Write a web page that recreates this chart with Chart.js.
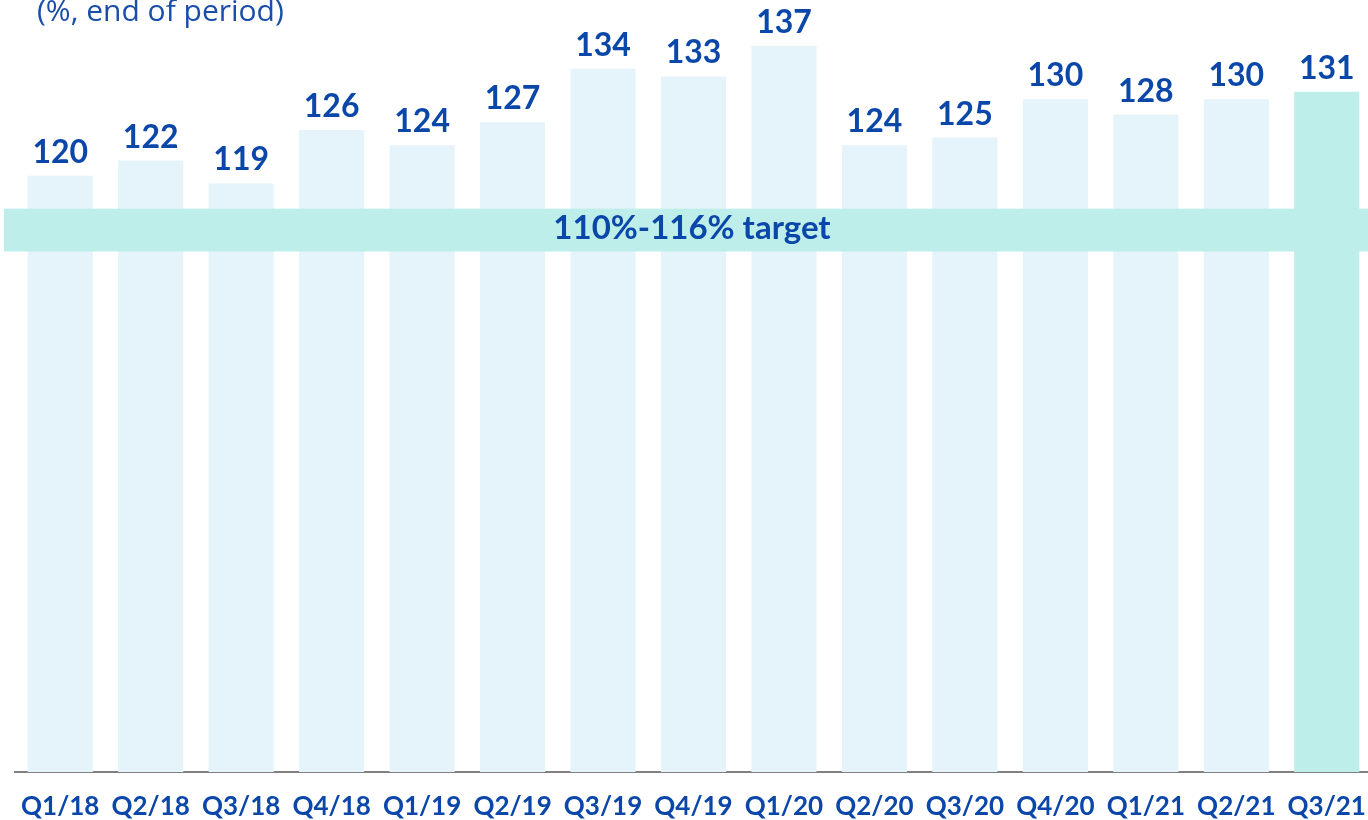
<!DOCTYPE html>
<html>
<head>
<meta charset="utf-8">
<script src="https://cdn.jsdelivr.net/npm/chart.js@4"></script>
<style>
  html, body { margin: 0; padding: 0; background: #fff; overflow: hidden; }
  #wrap { position: relative; width: 1368px; height: 820px; overflow: hidden; }
  #chart { position: absolute; left: 0; top: 0; }
</style>
</head>
<body>
<div id="wrap">
  <canvas id="chart" width="1385" height="820"></canvas>
</div>
<script>
const quarters = ['Q1/18', 'Q2/18', 'Q3/18', 'Q4/18', 'Q1/19', 'Q2/19', 'Q3/19', 'Q4/19',
                  'Q1/20', 'Q2/20', 'Q3/20', 'Q4/20', 'Q1/21', 'Q2/21', 'Q3/21'];
const ratio = [120, 122, 119, 126, 124, 127, 134, 133, 137, 124, 125, 130, 128, 130, 131];
const targetBand = [110.1, 115.7];
const targetLabel = '110%-116% target';
const unitNote = '(%, end of period)';

const blue = '#0B47A9';
const lightBar = '#E4F4FA';
const tealBar = '#BDEEEA';

const barColors = ratio.map((v, i) => i === ratio.length - 1 ? tealBar : lightBar);

// band + labels drawn on top of the bars
const overlay = {
    id: 'overlay',
    afterDatasetsDraw(chart) {
        const ctx = chart.ctx;
        const y = chart.scales.y;
        const top = y.getPixelForValue(targetBand[1]);
        const bottom = y.getPixelForValue(targetBand[0]);
        ctx.save();
        ctx.fillStyle = tealBar;
        ctx.fillRect(4, top, chart.width, bottom - top);

        ctx.fillStyle = blue;
        ctx.textAlign = 'center';
        ctx.textBaseline = 'alphabetic';
        ctx.font = 'bold 33px Lato, sans-serif';
        ctx.fillText(targetLabel, 692, 239);

        ctx.font = 'bold 32px Lato, sans-serif';
        chart.getDatasetMeta(0).data.forEach((bar, i) => {
            ctx.fillText(ratio[i], bar.x, bar.y - 13);
        });

        ctx.textAlign = 'left';
        ctx.fillStyle = '#1A4EA8';
        ctx.font = '30px "Open Sans", sans-serif';
        ctx.fillText(unitNote, 37, 21);
        ctx.restore();
    }
};

new Chart(document.getElementById('chart'), {
    type: 'bar',
    data: {
        labels: quarters,
        datasets: [{
            data: ratio,
            backgroundColor: barColors,
            barPercentage: 0.72,
            categoryPercentage: 1
        }]
    },
    options: {
        responsive: false,
        animation: false,
        layout: { padding: { left: 15, right: 13, top: 0, bottom: 0 } },
        plugins: {
            legend: { display: false },
            tooltip: { enabled: false }
        },
        scales: {
            x: {
                grid: { display: false },
                border: { display: true, color: '#808080', width: 2 },
                ticks: {
                    color: blue,
                    font: { family: 'Lato', size: 26, weight: 'bold' },
                    padding: 11,
                    maxRotation: 0,
                    autoSkip: false
                },
                afterFit(scale) { scale.height = 48; }
            },
            y: {
                display: false,
                min: 42,
                max: 143
            }
        }
    },
    plugins: [overlay]
});
</script>
</body>
</html>
